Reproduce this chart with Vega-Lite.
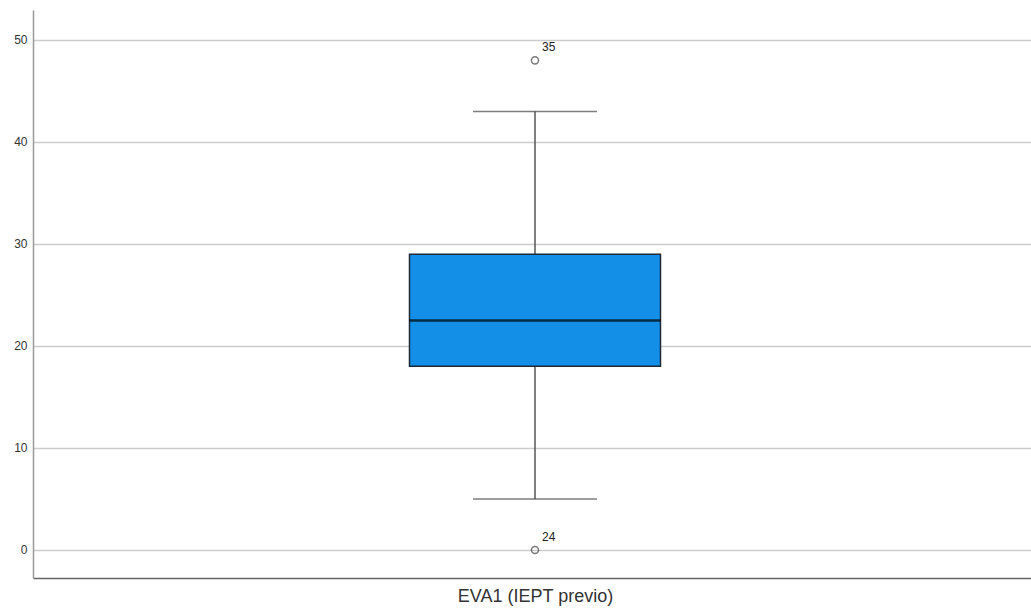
{
  "$schema": "https://vega.github.io/schema/vega-lite/v6.json",
  "autosize": "none",
  "width": 998,
  "height": 568,
  "padding": {"left": 33, "top": 10, "right": 0, "bottom": 37},
  "background": "white",
  "config": {
    "view": {"stroke": null},
    "font": "Liberation Sans"
  },
  "datasets": {
    "summary": [
      {"variable": "EVA1 (IEPT previo)", "lower": 5, "q1": 18, "median": 22.5, "q3": 29, "upper": 43}
    ],
    "outliers": [
      {"variable": "EVA1 (IEPT previo)", "value": 48, "case": "35"},
      {"variable": "EVA1 (IEPT previo)", "value": 0, "case": "24"}
    ]
  },
  "encoding": {
    "x": {
      "field": "variable",
      "type": "nominal",
      "scale": {"type": "band", "paddingInner": 0, "paddingOuter": 0.1, "align": 0.518},
      "axis": {
        "labels": false,
        "ticks": false,
        "title": "EVA1 (IEPT previo)",
        "titleFont": "Liberation Sans",
        "titleFontSize": 18,
        "titleFontWeight": "normal",
        "titleColor": "#333333",
        "titlePadding": 9,
        "titleX": 502,
        "domainColor": "#666666",
        "domainWidth": 1.5
      }
    }
  },
  "layer": [
    {
      "data": {"name": "summary"},
      "mark": {"type": "rule", "color": "#555555", "strokeWidth": 1.5},
      "encoding": {
        "y": {
          "field": "lower",
          "type": "quantitative",
          "scale": {"domain": [-2.75, 52.94], "nice": false, "zero": false},
          "axis": {
            "values": [0, 10, 20, 30, 40, 50],
            "title": null,
            "ticks": false,
            "labelFontSize": 12,
            "labelColor": "#333333",
            "labelPadding": 6,
            "domainColor": "#999999",
            "domainWidth": 1.5,
            "grid": true,
            "gridColor": "#cccccc",
            "gridWidth": 1.5
          }
        },
        "y2": {"field": "upper"}
      }
    },
    {
      "data": {"name": "summary"},
      "mark": {"type": "tick", "color": "#444444", "size": 124, "thickness": 1.5, "orient": "horizontal"},
      "encoding": {"y": {"field": "upper", "type": "quantitative"}}
    },
    {
      "data": {"name": "summary"},
      "mark": {"type": "tick", "color": "#444444", "size": 124, "thickness": 1.5, "orient": "horizontal"},
      "encoding": {"y": {"field": "lower", "type": "quantitative"}}
    },
    {
      "data": {"name": "summary"},
      "mark": {"type": "bar", "size": 251, "fill": "#138fe8", "stroke": "#1c2a3a", "strokeWidth": 1.5},
      "encoding": {
        "y": {"field": "q1", "type": "quantitative"},
        "y2": {"field": "q3"}
      }
    },
    {
      "data": {"name": "summary"},
      "mark": {"type": "tick", "color": "#000000", "size": 251, "thickness": 2.5, "orient": "horizontal"},
      "encoding": {"y": {"field": "median", "type": "quantitative"}}
    },
    {
      "data": {"name": "outliers"},
      "mark": {"type": "point", "shape": "circle", "filled": false, "size": 50, "stroke": "#444444", "strokeWidth": 1.5},
      "encoding": {"y": {"field": "value", "type": "quantitative"}}
    },
    {
      "data": {"name": "outliers"},
      "mark": {"type": "text", "align": "left", "baseline": "middle", "dx": 7, "dy": -13, "fontSize": 12, "color": "#222222"},
      "encoding": {
        "y": {"field": "value", "type": "quantitative"},
        "text": {"field": "case", "type": "nominal"}
      }
    }
  ]
}
